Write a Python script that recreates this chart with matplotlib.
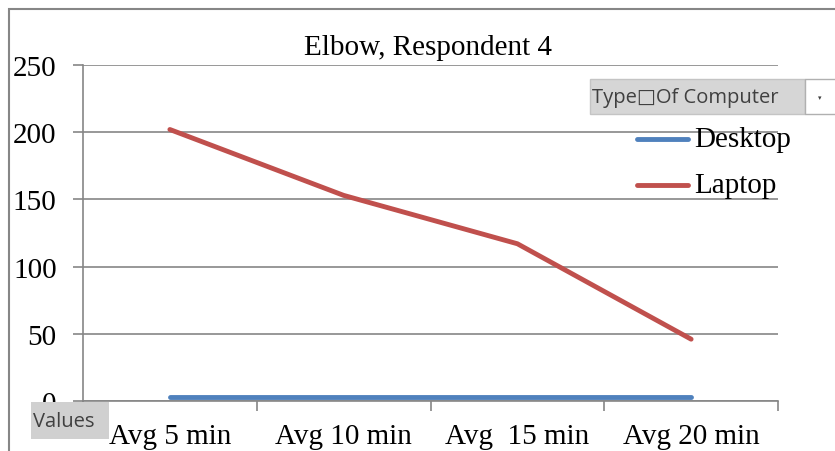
import matplotlib.pyplot as plt
from matplotlib.patches import Rectangle
from matplotlib.lines import Line2D

# data
categories = ["Avg 5 min", "Avg 10 min", "Avg  15 min", "Avg 20 min"]
desktop = [3, 3, 3, 3]
laptop = [202, 153, 117, 46]
series_names = ["Desktop", "Laptop"]
series_colors = ["#4F81BD", "#C0504D"]
y_ticks = [0, 50, 100, 150, 200, 250]

W, H = 835, 452
serif = "Liberation Serif"
sans = ["Open Sans", "DejaVu Sans"]
grid_col = "#868686"

fig = plt.figure(figsize=(W / 100, H / 100), dpi=100)
ax = fig.add_axes([83 / W, 1 - 402 / H, (778 - 83) / W, (402 - 66) / H])

x = list(range(len(categories)))
ax.plot(x, desktop, color=series_colors[0], lw=3.5, solid_capstyle="round", zorder=3)
ax.plot(x, laptop, color=series_colors[1], lw=3.5, solid_capstyle="round", zorder=3)

ax.set_xlim(-0.5, len(categories) - 0.5)
ax.set_ylim(0, 250)
ax.set_yticks(y_ticks)
ax.set_yticklabels([str(v) for v in y_ticks], fontfamily=serif, fontsize=21)
ax.yaxis.grid(True, color=grid_col, lw=1.2)
ax.set_axisbelow(True)

# category labels at centres, tick marks at the boundaries
ax.set_xticks(x)
ax.set_xticklabels(categories, fontfamily=serif, fontsize=21)
ax.tick_params(axis="x", which="major", length=0, pad=16)
ax.set_xticks([i - 0.5 for i in range(len(categories) + 1)], minor=True)
ax.tick_params(axis="x", which="minor", length=7, width=1.2, color=grid_col)
ax.tick_params(axis="y", length=7, width=1.2, color=grid_col, pad=12)

for side in ["top", "right"]:
    ax.spines[side].set_visible(False)
for side in ["left", "bottom"]:
    ax.spines[side].set_color(grid_col)
    ax.spines[side].set_linewidth(1.2)

# title
fig.text(428 / W, 1 - 48 / H, "Elbow, Respondent 4", ha="center", va="center",
         fontfamily=serif, fontsize=21)

# chart area border (runs off the right and bottom edges)
fig.patches.append(Rectangle((9 / W, -0.1), 1.2, 1.1 - 10 / H, transform=fig.transFigure,
                             fill=False, ec=grid_col, lw=1.5, zorder=0))

# legend drawn by hand
for i, name in enumerate(series_names):
    yy = 1 - (140 + 46 * i) / H
    fig.lines.append(Line2D([637 / W, 688 / W], [yy, yy], transform=fig.transFigure,
                            color=series_colors[i], lw=3.5, solid_capstyle="round"))
    fig.text(694 / W, yy, name, ha="left", va="center", fontfamily=serif, fontsize=21)

# pivot field buttons
fig.patches.append(Rectangle((590 / W, 1 - 115 / H), (805 - 590) / W, 35 / H,
                             transform=fig.transFigure, fc="#d6d6d6", ec="#c4c4c4", lw=1, zorder=5))
fig.patches.append(Rectangle((805 / W, 1 - 115 / H), 40 / W, 35 / H,
                             transform=fig.transFigure, fc="white", ec="#b0b0b0", lw=1, zorder=5))
fig.text(592 / W, 1 - 98 / H, "Type\u25a1Of Computer", ha="left", va="center",
         family=sans, fontsize=14.5, color="#404040", zorder=6)
fig.text(820 / W, 1 - 98 / H, "\u25be", ha="center", va="center",
         fontsize=5, color="#404040", zorder=6)

fig.patches.append(Rectangle((31 / W, 1 - 440 / H), (109 - 31) / W, 37 / H,
                             transform=fig.transFigure, fc="#d0d0d0", ec="none", zorder=5))
fig.text(33 / W, 1 - 422 / H, "Values", ha="left", va="center",
         family=sans, fontsize=14.5, color="#404040", zorder=6)

fig.savefig("out.png", dpi=100)
